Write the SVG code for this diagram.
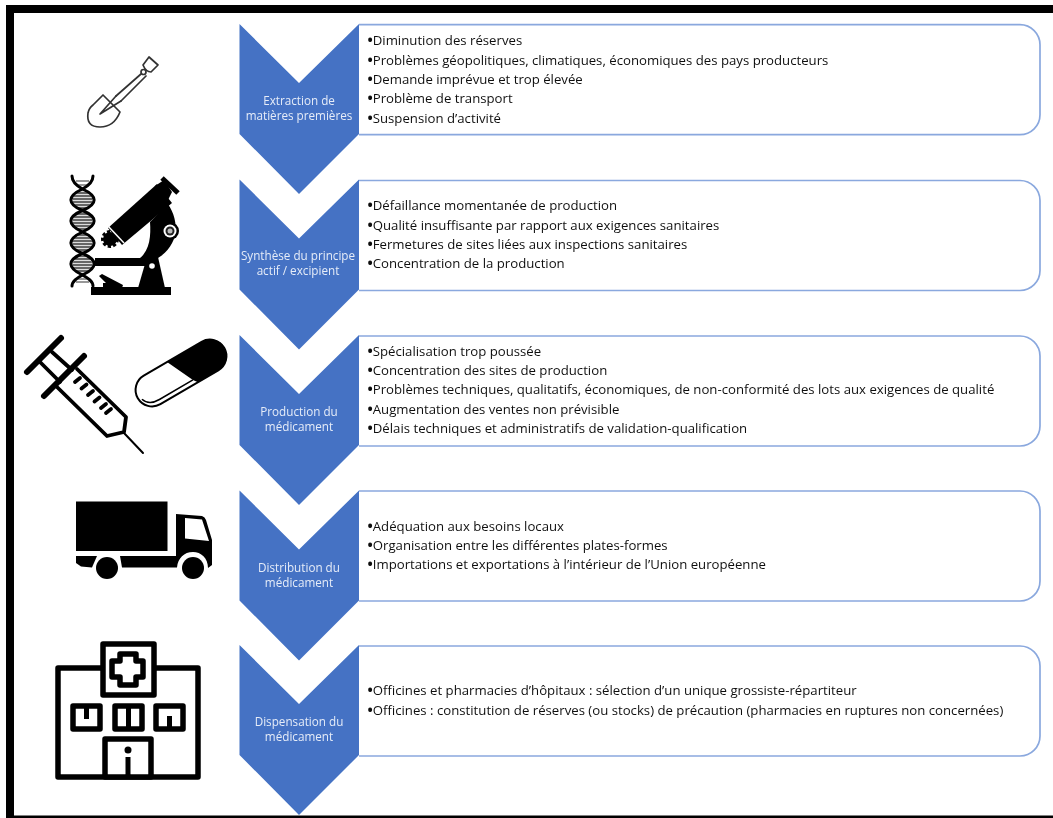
<svg xmlns="http://www.w3.org/2000/svg" width="1053" height="818" viewBox="0 0 1053 818">
<style>
.t{font:13.2px "Open Sans","Noto Sans",sans-serif;fill:#111}
.t tspan{font-weight:700;font-size:14px}
.l{font:11.7px "Open Sans","Noto Sans",sans-serif;fill:#e6ecf8;text-anchor:middle}
.box{fill:#fff;stroke:#8aa8de;stroke-width:1.7}
.chev{fill:#4472c4}
.k{fill:none;stroke:#000;stroke-linecap:round;stroke-linejoin:round}
</style>
<defs>
<path id="c" class="chev" d="M239.500,0 L299,59 L359,0 V110 L299,170 L239.500,110 Z"/>
<path id="b" class="box" d="M359,0 H1020 A20,20 0 0 1 1040,20 V90 A20,20 0 0 1 1020,110 H359"/>
<pattern id="st" width="3" height="3" patternUnits="userSpaceOnUse"><rect width="3" height="3" fill="#666"/><rect y="2" width="3" height="1" fill="#ddd"/></pattern>
<filter id="soft" x="0" y="0" width="100%" height="100%"><feGaussianBlur stdDeviation="0.4"/></filter>
</defs>
<rect width="1053" height="818" fill="#fff"/>
<g filter="url(#soft)">
<g id="frame" fill="#000"><rect x="6" y="5" width="1047" height="8"/><rect x="6" y="5" width="8" height="813"/><rect x="6" y="815.500" width="1047" height="2.500"/></g>

<g id="step-1">
<use href="#b" y="24.700"/>
<use href="#c" y="24"/>
<text class="l" x="299" y="105">Extraction de</text><text class="l" x="299" y="120">matières premières</text>
<text class="t" x="367.500" y="45"><tspan>•</tspan>Diminution des réserves</text>
<text class="t" x="367.500" y="64.500"><tspan>•</tspan>Problèmes géopolitiques, climatiques, économiques des pays producteurs</text>
<text class="t" x="367.500" y="83.500"><tspan>•</tspan>Demande imprévue et trop élevée</text>
<text class="t" x="367.500" y="103"><tspan>•</tspan>Problème de transport</text>
<text class="t" x="367.500" y="122.500"><tspan>•</tspan>Suspension d’activité</text>
</g>
<g id="step-2">
<use href="#b" y="180.500"/>
<use href="#c" y="179.500"/>
<text class="l" x="298" y="260">Synthèse du principe</text><text class="l" x="298" y="275">actif / excipient</text>
<text class="t" x="367.500" y="210"><tspan>•</tspan>Défaillance momentanée de production</text>
<text class="t" x="367.500" y="229.500"><tspan>•</tspan>Qualité insuffisante par rapport aux exigences sanitaires</text>
<text class="t" x="367.500" y="249"><tspan>•</tspan>Fermetures de sites liées aux inspections sanitaires</text>
<text class="t" x="367.500" y="268"><tspan>•</tspan>Concentration de la production</text>
</g>
<g id="step-3">
<use href="#b" y="336"/>
<use href="#c" y="335"/>
<text class="l" x="299" y="416">Production du</text><text class="l" x="299" y="431">médicament</text>
<text class="t" x="367.500" y="355.500"><tspan>•</tspan>Spécialisation trop poussée</text>
<text class="t" x="367.500" y="374.500"><tspan>•</tspan>Concentration des sites de production</text>
<text class="t" x="367.500" y="394"><tspan>•</tspan>Problèmes techniques, qualitatifs, économiques, de non-conformité des lots aux exigences de qualité</text>
<text class="t" x="367.500" y="413.500"><tspan>•</tspan>Augmentation des ventes non prévisible</text>
<text class="t" x="367.500" y="432.500"><tspan>•</tspan>Délais techniques et administratifs de validation-qualification</text>
</g>
<g id="step-4">
<use href="#b" y="491"/>
<use href="#c" y="490.500"/>
<text class="l" x="299" y="571.500">Distribution du</text><text class="l" x="299" y="586.500">médicament</text>
<text class="t" x="367.500" y="530.500"><tspan>•</tspan>Adéquation aux besoins locaux</text>
<text class="t" x="367.500" y="549.500"><tspan>•</tspan>Organisation entre les différentes plates-formes</text>
<text class="t" x="367.500" y="569"><tspan>•</tspan>Importations et exportations à l’intérieur de l’Union européenne</text>
</g>
<g id="step-5">
<use href="#b" y="646"/>
<use href="#c" y="645"/>
<text class="l" x="299" y="726">Dispensation du</text><text class="l" x="299" y="741">médicament</text>
<text class="t" x="367.500" y="695"><tspan>•</tspan>Officines et pharmacies d’hôpitaux : sélection d’un unique grossiste-répartiteur</text>
<text class="t" x="367.500" y="714.500"><tspan>•</tspan>Officines : constitution de réserves (ou stocks) de précaution (pharmacies en ruptures non concernées)</text>
</g>

<g id="icon-shovel" class="k" stroke-width="1.700" style="fill:none;stroke:#333">
<path d="M143,65 L149,57 L158,65 L151,72 Q146,72 143,65Z"/>
<circle cx="143.500" cy="72" r="2.500"/>
<path d="M141,74 L116,96 M146,76 L121,101"/>
<path d="M103,95 L120,112 Q114,127 100,127 Q86,127 88,113 Q89,108 93,105 Z"/>
<path d="M116,96 L100,114 L121,101"/>
</g>

<g id="icon-dna">
<ellipse cx="82.500" cy="200" rx="10" ry="9.500" fill="url(#st)"/><ellipse cx="82.500" cy="221" rx="10" ry="9.500" fill="url(#st)"/><ellipse cx="82.500" cy="243" rx="10" ry="9.500" fill="url(#st)"/><ellipse cx="82.500" cy="265" rx="10" ry="9.500" fill="url(#st)"/>
<path d="M76,181 H89 M78,185 H87 M76,282 H89 M78,279 H87" stroke="#777" stroke-width="1.500"/>
<g class="k" stroke-width="3">
<path d="M93,176 C93,182 88,186 82.500,189 C67,196 67,204 82.500,210.500 C98,217 98,225 82.500,232 C67,239 67,247 82.500,253.500 C98,260 98,268 82.500,275 C77,278 72,281 72,286"/>
<path d="M72,176 C72,182 77,186 82.500,189 C98,196 98,204 82.500,210.500 C67,217 67,225 82.500,232 C98,239 98,247 82.500,253.500 C67,260 67,268 82.500,275 C88,278 93,281 93,286"/>
</g>
</g>

<g id="icon-microscope" fill="#000">
<circle cx="110" cy="239" r="7" fill="#000" stroke="#000" stroke-width="4" stroke-dasharray="3 2"/>
<path d="M108,228 L157,184 L172,203 L122,245 Z"/>
<path d="M108,226 L124,243" stroke="#fff" stroke-width="1.500"/>
<path d="M155,186 L164,180 L172,192 L168,200Z"/>
<path d="M162,178 L178,193" stroke="#000" stroke-width="5"/>
<path d="M168,204 C180,222 179,245 158,258 L140,258 C150,250 151,235 150,222 Z"/>
<rect x="95" y="258" width="52" height="8"/>
<path d="M147,257 L158,257 L165,288 L138,288 Z"/>
<circle cx="152" cy="266" r="2.800" fill="#fff"/>
<rect x="91" y="287" width="80" height="8"/>
<path d="M99,276 L102,274 L123,285 L122,288 L117,288 L117,283 L106,283Z"/>
<rect x="103" y="283" width="15" height="5"/>
<circle cx="170" cy="231" r="9"/><circle cx="170" cy="231" r="6.500" fill="#fff"/><circle cx="170" cy="231" r="4.500" fill="#222"/><circle cx="170" cy="231" r="2.500" fill="#bbb"/>
</g>

<g id="icon-syringe">
<g class="k" stroke-width="6"><path d="M27,372 L61,338 M44,396 L84,356"/></g>
<g class="k" stroke-width="3.800"><path d="M40,362 L60,382 M52,352 L72,370 M57,387 L107,436 L124,432 L126,417 L77,369"/>
<path d="M75,382 L80,378 M81.500,388.500 L86.500,384.500 M88,395 L93,391 M94.500,401.500 L99.500,397.500 M101,408 L106,404 M106,413 L111,409"/></g>
<path class="k" stroke-width="2" d="M124,433 L143,453"/>
</g>

<g id="icon-capsule" transform="translate(181 373) rotate(-30.300)">
<rect x="-50" y="-16.500" width="100" height="33" rx="16.500" fill="#fff" stroke="#000" stroke-width="2"/>
<path d="M-6.500,-16.500 H34 A16.500,16.500 0 0 1 34,16.500 H10 L6.800,12 Z" fill="#000"/>
<path d="M6.800,12 H-32 Q-44,12 -47,3" fill="none" stroke="#000" stroke-width="1.500"/>
</g>

<g id="icon-truck" fill="#000">
<rect x="76" y="501.500" width="91.500" height="49.500"/>
<path d="M76,556 H97 L92,567.500 L81,566.500 L76,563 Z"/>
<path fill-rule="evenodd" d="M176,514 L202,516 Q205,517 206,520 L212,540 V565 L208,568 C208,558 201,552 193,552 C184,552 178,558 177,567.500 H122 L120,556 H176 Z M185,518 L202,519.500 L209,541 L185,538.500 Z"/>
<circle cx="107" cy="568" r="11"/><circle cx="193" cy="568" r="11"/>
</g>

<g id="icon-hospital">
<g fill="#fff" stroke="#000" stroke-width="5.500" stroke-linejoin="round">
<rect x="58" y="668" width="140" height="109"/>
<rect x="103" y="644" width="51" height="51"/>
<path d="M120,654 H136 V661 H143 V677 H136 V685 H120 V677 H112 V661 H120 Z"/>
<rect x="73" y="706" width="27" height="23"/><rect x="115" y="706" width="27" height="23"/><rect x="156" y="706" width="27" height="23"/>
<rect x="105" y="739" width="46" height="38"/>
</g>
<path stroke="#000" stroke-width="5" d="M86.500,708 V719 M128.500,708 V727 M169.500,727 V716 M128,757 V775"/>
<circle cx="128" cy="750" r="3.500"/>
</g>
</g>
</svg>
